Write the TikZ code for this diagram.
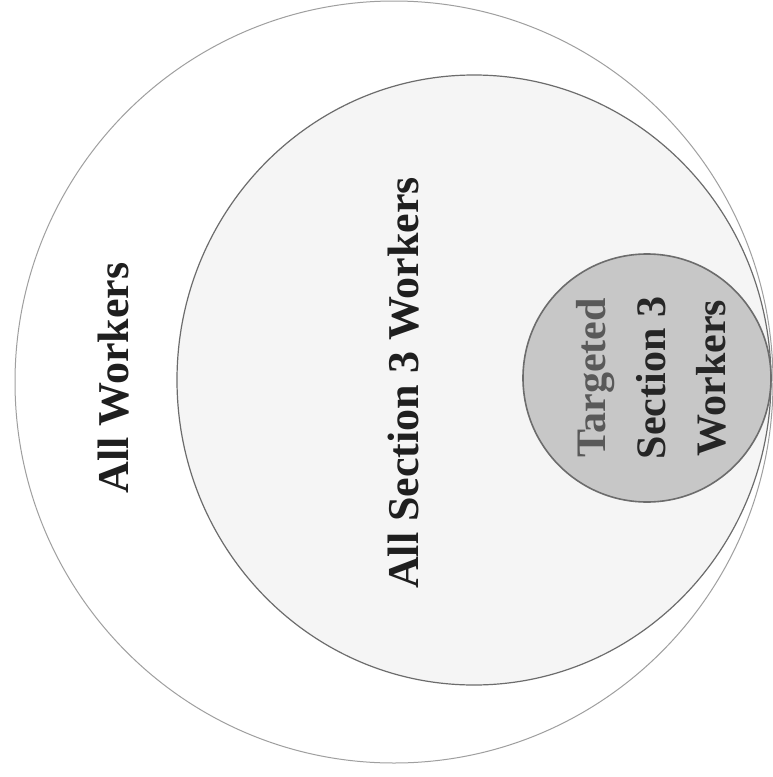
\documentclass[tikz,border=0pt]{standalone}
\usepackage{fontspec}
\usetikzlibrary{shapes.geometric}
\setmainfont{Liberation Serif}
\begin{document}
\begin{tikzpicture}[x=1pt,y=-1pt,
  ring/.style={ellipse,draw=gray!85!black,line width=1.2pt,inner sep=0pt},
  lbl/.style={font=\bfseries\fontsize{44}{48}\selectfont,text=black!88,rotate=90,inner sep=0pt},
  inlbl/.style={font=\bfseries\fontsize{42}{60}\selectfont,text=black!85,rotate=90,align=center,inner sep=0pt}]
\useasboundingbox (0,0) rectangle (773,777);
\fill[white] (0,0) rectangle (773,777);
\node[ring,minimum width=758pt,minimum height=762pt,fill=white,draw=gray!75,line width=1pt] (outer) at (394,382) {};
\node[ring,minimum width=594pt,minimum height=610pt,fill=black!4] (mid) at (474,380) {};
\node[ring,minimum size=248pt,fill=black!22,line width=1.6pt] (inner) at (647,378) {};
\node[lbl] (allw) at (114,378) {All Workers};
\node[lbl] (alls) at (404,383) {All Section 3 Workers};
\node[inlbl] (targ) at (651,378) {\textcolor{black!65}{Targeted}\\Section 3\\Workers};
\end{tikzpicture}
\end{document}
